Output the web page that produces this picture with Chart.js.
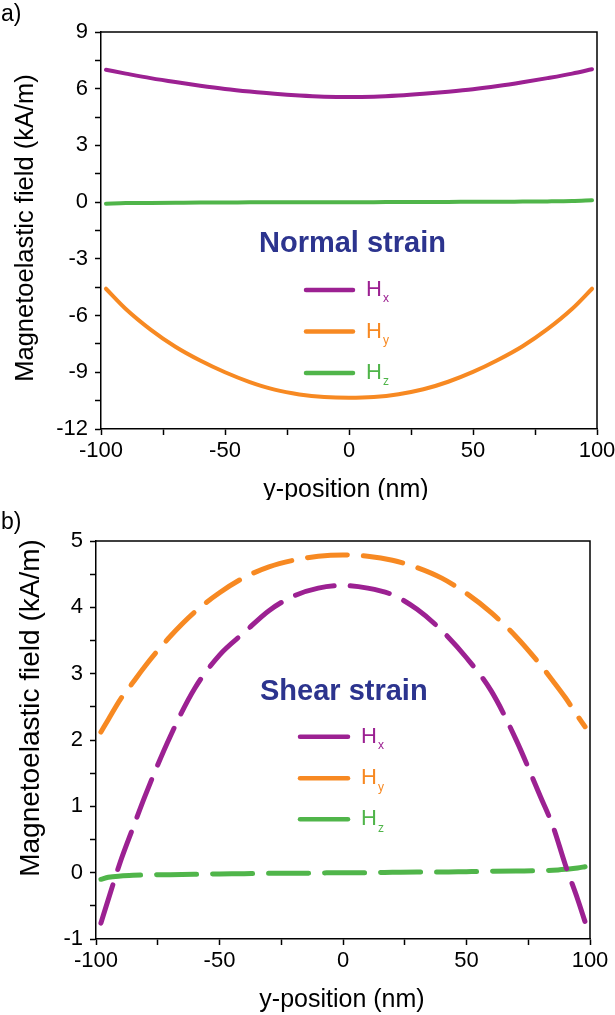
<!DOCTYPE html>
<html>
<head>
<meta charset="utf-8">
<script src="https://cdn.jsdelivr.net/npm/chart.js@4.4.1/dist/chart.umd.min.js"></script>
<style>
  body { margin: 0; background: #fff; }
  #wrap { position: relative; width: 615px; height: 1015px; }
  canvas { position: absolute; left: 0; }
  #chart-a { top: 0; }
  #chart-b { top: 500px; }
</style>
</head>
<body>
<div id="wrap">
  <canvas id="chart-a" width="615" height="500"></canvas>
  <canvas id="chart-b" width="615" height="515"></canvas>
</div>
<script>
// panel a) normal strain
const posA = [-98, -90, -80, -70, -60, -50, -40, -30, -20, -10, 0, 10, 20, 30, 40, 50, 60, 70, 80, 90, 98];
const hxNormal = [7.00, 6.80, 6.56, 6.35, 6.16, 5.99, 5.85, 5.73, 5.64, 5.58, 5.56, 5.58, 5.64, 5.73, 5.84, 5.97, 6.14, 6.34, 6.56, 6.80, 7.03];
const hyNormal = [-4.58, -5.65, -6.74, -7.65, -8.38, -9.00, -9.52, -9.92, -10.17, -10.31, -10.35, -10.31, -10.16, -9.90, -9.50, -8.98, -8.35, -7.62, -6.72, -5.64, -4.58];
const hzNormal = [-0.08, -0.05, -0.04, -0.03, -0.02, -0.02, -0.01, -0.01, -0.01, 0, 0, 0, 0.01, 0.01, 0.01, 0.02, 0.02, 0.03, 0.04, 0.06, 0.10];

// panel b) shear strain
const posB = [-98, -95, -90, -85, -80, -70, -60, -50, -40, -30, -20, -10, 0, 10, 20, 30, 40, 50, 60, 70, 80, 85, 90, 95, 98];
const hxShear = [-0.76, -0.40, 0.18, 0.68, 1.17, 2.05, 2.78, 3.28, 3.62, 3.95, 4.17, 4.29, 4.33, 4.29, 4.19, 3.97, 3.65, 3.24, 2.74, 2.01, 1.14, 0.70, 0.12, -0.40, -0.74];
const hyShear = [2.12, 2.31, 2.62, 2.87, 3.12, 3.56, 3.93, 4.22, 4.45, 4.61, 4.71, 4.77, 4.79, 4.77, 4.71, 4.60, 4.44, 4.21, 3.92, 3.56, 3.13, 2.89, 2.64, 2.36, 2.20];
const hzShear = [-0.10, -0.07, -0.05, -0.04, -0.035, -0.03, -0.025, -0.02, -0.015, -0.01, -0.01, -0.005, 0, 0, 0.005, 0.01, 0.01, 0.015, 0.02, 0.025, 0.03, 0.035, 0.05, 0.07, 0.09];

const seriesNames = ['x', 'y', 'z'];
const xTickLabels = [-100, -50, 0, 50, 100];

const PURPLE = 'rgb(156, 33, 146)';
const ORANGE = 'rgb(247, 137, 34)';
const GREEN = 'rgb(80, 181, 74)';
const NAVY = 'rgb(44, 52, 142)';
const FONT = '"Liberation Sans", Arial, Helvetica, sans-serif';

function pts(xs, ys) {
  return xs.map((x, i) => ({ x: x, y: ys[i] }));
}

function isMult(v, step) {
  return Math.abs(v / step - Math.round(v / step)) < 1e-6;
}

// text, inner legend, frame
const decor = {
  id: 'decor',
  afterDraw(chart, args, o) {
    const c = chart.ctx;
    const a = chart.chartArea;
    c.save();
    c.strokeStyle = '#000';
    c.lineWidth = 1.5;
    c.beginPath();
    c.moveTo(a.left, a.top);
    c.lineTo(a.right, a.top);
    c.lineTo(a.right, a.bottom);
    c.stroke();

    c.fillStyle = '#000';
    c.textBaseline = 'middle';
    c.font = '23px ' + FONT;
    c.textAlign = 'left';
    c.fillText(o.panel, 1, o.panelY);

    c.textAlign = 'center';
    c.font = o.xTitleSize + 'px ' + FONT;
    c.fillText('y-position (nm)', o.xTitleX, o.xTitleY);

    c.save();
    c.translate(o.yTitleX, o.yTitleY);
    c.rotate(-Math.PI / 2);
    c.font = o.yTitleSize + 'px ' + FONT;
    c.fillText('Magnetoelastic field (kA/m)', 0, 0);
    c.restore();

    c.textAlign = 'left';
    c.fillStyle = NAVY;
    c.font = 'bold 29px ' + FONT;
    c.fillText(o.title, o.titleX, o.titleY);

    chart.data.datasets.forEach((ds, i) => {
      const y = o.rowY[i];
      c.strokeStyle = ds.borderColor;
      c.lineWidth = 4.5;
      c.lineCap = 'round';
      c.beginPath();
      c.moveTo(o.lineX0, y);
      c.lineTo(o.lineX1, y);
      c.stroke();
      c.fillStyle = ds.borderColor;
      c.font = '22px ' + FONT;
      c.fillText('H', o.textX, y);
      const w = c.measureText('H').width;
      c.font = '12px ' + FONT;
      c.fillText(seriesNames[i], o.textX + w + 1, y + 9);
    });
    c.restore();
  }
};

function makeDatasets(xs, sets, dashed) {
  const colors = [PURPLE, ORANGE, GREEN];
  return sets.map((ys, i) => ({
    label: 'H' + seriesNames[i],
    data: pts(xs, ys),
    borderColor: colors[i],
    backgroundColor: colors[i],
    borderWidth: dashed ? 5 : 4,
    borderDash: dashed ? [40, 16] : [],
    borderCapStyle: 'round',
    pointRadius: 0,
    cubicInterpolationMode: 'monotone',
    fill: false
  }));
}

function axisOpts(min, max, step, labelStep, width, height) {
  return {
    type: 'linear',
    min: min,
    max: max,
    afterFit: function(scale) {
      if (width) scale.width = width;
      if (height) scale.height = height;
      scale.paddingLeft = 0;
      scale.paddingRight = 0;
      scale.paddingTop = 0;
      scale.paddingBottom = 0;
    },
    ticks: {
      stepSize: step,
      autoSkip: false,
      maxRotation: 0,
      color: '#000',
      padding: width ? 7 : 3,
      font: { family: FONT, size: 22 },
      callback: function(v) {
        return isMult(v, labelStep) ? String(v) : '';
      }
    },
    grid: {
      display: true,
      drawOnChartArea: false,
      drawTicks: true,
      tickLength: 6,
      tickWidth: 1.5,
      tickColor: '#000'
    },
    border: { display: true, color: '#000', width: 1.5 }
  };
}

const ctxA = document.getElementById('chart-a');
const ctxB = document.getElementById('chart-b');

new Chart(ctxA, {
  type: 'line',
  data: { datasets: makeDatasets(posA, [hxNormal, hyNormal, hzNormal], false) },
  options: {
    responsive: false,
    animation: false,
    layout: { padding: { left: 0, top: 32, right: 18, bottom: 0 } },
    plugins: {
      legend: { display: false },
      tooltip: { enabled: false },
      decor: {
        panel: 'a)', panelY: 15,
        xTitleX: 346, xTitleY: 490, xTitleSize: 25,
        yTitleX: 26, yTitleY: 228, yTitleSize: 25.5,
        title: 'Normal strain', titleX: 259, titleY: 244,
        rowY: [290, 331.5, 373], lineX0: 306, lineX1: 353, textX: 366
      }
    },
    scales: {
      x: axisOpts(xTickLabels[0], xTickLabels[xTickLabels.length - 1], 25, 50, 0, 71),
      y: axisOpts(-12, 9, 1.5, 3, 101, 0)
    }
  },
  plugins: [decor]
});

new Chart(ctxB, {
  type: 'line',
  data: { datasets: makeDatasets(posB, [hxShear, hyShear, hzShear], true) },
  options: {
    responsive: false,
    animation: false,
    layout: { padding: { left: 0, top: 41, right: 25, bottom: 0 } },
    plugins: {
      legend: { display: false },
      tooltip: { enabled: false },
      decor: {
        panel: 'b)', panelY: 23,
        xTitleX: 342, xTitleY: 500, xTitleSize: 25,
        yTitleX: 31, yTitleY: 208, yTitleSize: 28,
        title: 'Shear strain', titleX: 260, titleY: 192,
        rowY: [236.7, 278.3, 319.3], lineX0: 300, lineX1: 348, textX: 361
      }
    },
    scales: {
      x: axisOpts(xTickLabels[0], xTickLabels[xTickLabels.length - 1], 25, 50, 0, 76),
      y: axisOpts(-1, 5, 0.5, 1, 96, 0)
    }
  },
  plugins: [decor]
});
</script>
</body>
</html>
